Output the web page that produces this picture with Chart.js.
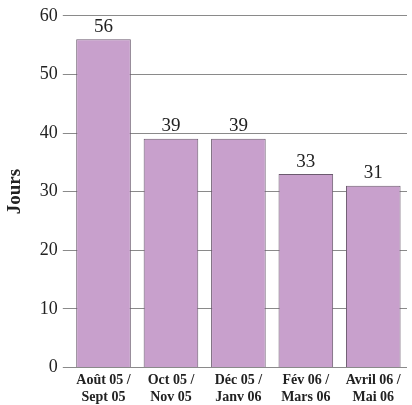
<!DOCTYPE html>
<html>
<head>
<meta charset="utf-8">
<script src="https://cdn.jsdelivr.net/npm/chart.js@4"></script>
<style>
  html, body { margin: 0; padding: 0; background: #fff; }
  #wrap { width: 412px; height: 405px; }
</style>
</head>
<body>
<div id="wrap"><canvas id="Jours"></canvas></div>
<script>
// data
const periods = [
	["Août 05 /", "Sept 05"],
	["Oct 05 /", "Nov 05"],
	["Déc 05 /", "Janv 06"],
	["Fév 06 /", "Mars 06"],
	["Avril 06 /", "Mai 06"],
];
const days = [56, 39, 39, 33, 31];
const yTicks = [0, 10, 20, 30, 40, 50, 60];

const serif = "'Liberation Serif', 'DejaVu Serif', serif";

// values on top of the bars
const valueLabels = {
	id: "valueLabels",
	afterDatasetsDraw(chart) {
		const ctx = chart.ctx;
		const meta = chart.getDatasetMeta(0);
		ctx.save();
		ctx.font = "19px " + serif;
		ctx.fillStyle = "#222";
		ctx.textAlign = "center";
		ctx.textBaseline = "bottom";
		meta.data.forEach((bar, i) => {
			ctx.fillText(days[i], bar.x, bar.y - 3);
		});
		ctx.restore();
	},
};

new Chart(document.getElementById("Jours").getContext("2d"), {
	type: "bar",
	data: {
		labels: periods,
		datasets: [
			{
				label: "Jours",
				data: days,
				backgroundColor: "#c8a0cc",
				borderColor: "#6b5a6e",
				borderWidth: 1,
				categoryPercentage: 0.81,
				barPercentage: 1,
			},
		],
	},
	options: {
		responsive: true,
		maintainAspectRatio: false,
		animation: false,
		layout: { padding: { top: 6, right: 5, left: 4, bottom: -6 } },
		plugins: {
			legend: { display: false },
			tooltip: { enabled: false },
		},
		scales: {
			x: {
				grid: { display: false, drawTicks: false },
				border: { display: false },
				ticks: {
					color: "#222",
					font: { family: serif, size: 14, weight: "bold", lineHeight: 1.2 },
					maxRotation: 0,
					autoSkip: false,
					padding: 5,
				},
			},
			y: {
				min: 0,
				max: 60,
				afterBuildTicks: (axis) => {
					axis.ticks = yTicks.map((v) => ({ value: v }));
				},
				grid: {
					color: "#8a8a8a",
					lineWidth: 1,
					drawTicks: true,
					tickLength: 7,
				},
				border: { display: false },
				ticks: {
					color: "#222",
					font: { family: serif, size: 18 },
					padding: 5,
				},
				title: {
					display: true,
					text: "Jours",
					color: "#222",
					font: { family: serif, size: 19, weight: "bold" },
					padding: { top: 0, bottom: 8 },
				},
			},
		},
	},
	plugins: [valueLabels],
});
</script>
</body>
</html>
